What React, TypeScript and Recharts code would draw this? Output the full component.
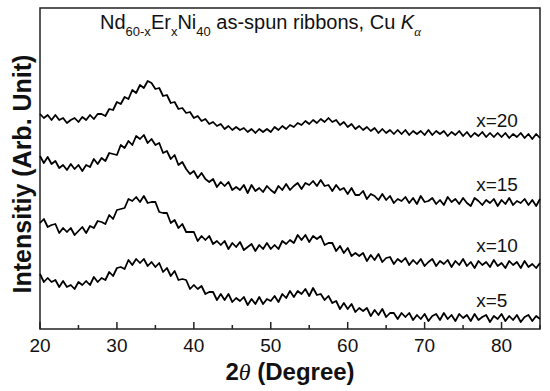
import { LineChart, Line, XAxis, YAxis, ReferenceArea, ReferenceDot } from "recharts"

// 2-theta scan grid (degrees)
const TWO_THETA = [
  20, 20.5, 21, 21.5, 22, 22.5, 23, 23.5, 24, 24.5, 25, 25.5, 26, 26.5, 27, 27.5, 28, 28.5, 29, 29.5,
  30, 30.5, 31, 31.5, 32, 32.5, 33, 33.5, 34, 34.5, 35, 35.5, 36, 36.5, 37, 37.5, 38, 38.5, 39, 39.5,
  40, 40.5, 41, 41.5, 42, 42.5, 43, 43.5, 44, 44.5, 45, 45.5, 46, 46.5, 47, 47.5, 48, 48.5, 49, 49.5,
  50, 50.5, 51, 51.5, 52, 52.5, 53, 53.5, 54, 54.5, 55, 55.5, 56, 56.5, 57, 57.5, 58, 58.5, 59, 59.5,
  60, 60.5, 61, 61.5, 62, 62.5, 63, 63.5, 64, 64.5, 65, 65.5, 66, 66.5, 67, 67.5, 68, 68.5, 69, 69.5,
  70, 70.5, 71, 71.5, 72, 72.5, 73, 73.5, 74, 74.5, 75, 75.5, 76, 76.5, 77, 77.5, 78, 78.5, 79, 79.5,
  80, 80.5, 81, 81.5, 82, 82.5, 83, 83.5, 84, 84.5, 85,
]

// intensities, stacked with offsets (arb. unit)
const X20 = [
  215, 211, 214, 209, 214, 209, 211, 206, 209, 211, 207, 212, 209, 214, 210, 215, 215, 213, 220, 219,
  227, 225, 232, 230, 239, 236, 244, 241, 248, 246, 240, 241, 233, 234, 226, 227, 220, 221, 216, 217,
  211, 213, 208, 210, 205, 207, 203, 205, 200, 203, 199, 202, 199, 201, 197, 200, 196, 200, 197, 200,
  197, 202, 199, 203, 200, 204, 202, 206, 204, 208, 205, 209, 206, 210, 207, 211, 207, 209, 204, 207,
  202, 205, 200, 203, 199, 202, 198, 201, 196, 200, 196, 199, 195, 199, 195, 199, 194, 198, 195, 198,
  194, 199, 194, 198, 195, 198, 193, 197, 194, 198, 193, 197, 192, 196, 193, 197, 192, 196, 192, 196,
  192, 196, 191, 195, 192, 196, 191, 195, 190, 195, 191,
]
const X15 = [
  173, 166, 172, 165, 168, 161, 164, 159, 165, 160, 164, 158, 164, 162, 170, 165, 171, 168, 176, 175,
  174, 184, 181, 188, 184, 193, 190, 194, 186, 190, 184, 186, 176, 178, 170, 174, 164, 167, 160, 155,
  158, 151, 156, 150, 147, 150, 142, 147, 143, 147, 139, 142, 139, 144, 136, 144, 138, 141, 137, 143,
  139, 136, 143, 139, 145, 139, 143, 146, 140, 146, 144, 148, 143, 149, 143, 144, 138, 144, 139, 141,
  135, 141, 134, 134, 138, 130, 135, 133, 129, 135, 129, 133, 126, 130, 128, 132, 126, 131, 125, 133,
  127, 128, 131, 125, 129, 124, 132, 127, 130, 125, 131, 126, 123, 131, 128, 124, 129, 126, 130, 123,
  129, 125, 131, 124, 128, 126, 130, 124, 129, 123, 130,
]
const X10 = [
  106, 110, 102, 104, 105, 96, 101, 97, 101, 94, 98, 102, 96, 103, 101, 108, 107, 105, 114, 110,
  119, 120, 121, 130, 128, 132, 127, 133, 126, 127, 127, 117, 116, 116, 106, 109, 101, 105, 97, 97,
  97, 88, 93, 89, 93, 85, 88, 84, 88, 80, 86, 82, 87, 79, 82, 85, 78, 84, 80, 86,
  80, 84, 80, 88, 85, 89, 86, 94, 89, 94, 87, 93, 90, 93, 84, 86, 86, 78, 83, 76,
  81, 73, 76, 73, 76, 68, 74, 69, 75, 67, 71, 72, 65, 70, 67, 71, 64, 69, 65, 70,
  63, 67, 70, 63, 68, 65, 69, 62, 68, 64, 70, 63, 67, 61, 68, 64, 67, 62, 69, 63,
  66, 61, 68, 64, 67, 61, 68, 62, 65, 61, 66,
]
const X5 = [
  55, 47, 51, 47, 49, 42, 48, 42, 44, 40, 47, 44, 48, 44, 52, 47, 51, 49, 57, 53,
  61, 62, 60, 69, 64, 70, 66, 70, 63, 67, 62, 66, 57, 61, 53, 58, 49, 50, 49, 40,
  44, 40, 43, 35, 37, 37, 29, 35, 29, 35, 27, 31, 28, 32, 24, 30, 25, 32, 25, 30,
  28, 33, 27, 35, 31, 38, 32, 38, 35, 40, 33, 41, 34, 35, 29, 33, 26, 28, 20, 26,
  20, 25, 17, 21, 18, 21, 13, 19, 14, 20, 12, 16, 16, 10, 16, 12, 16, 9, 14, 10,
  15, 8, 13, 15, 9, 16, 10, 14, 8, 15, 11, 14, 8, 15, 9, 12, 14, 7, 13, 10,
  15, 8, 13, 9, 14, 7, 12, 14, 8, 13, 10,
]

const SERIES_KEYS = ["x20", "x15", "x10", "x5"]
const SERIES_LABELS = ["x=20", "x=15", "x=10", "x=5"]
const LABEL_LEVELS = [202, 138, 77, 22]
const LABEL_ANGLE = 76.7
const X_TICKS = [20, 25, 30, 35, 40, 45, 50, 55, 60, 65, 70, 75, 80, 85]

const data = TWO_THETA.map((t, i) => ({ deg: t, x20: X20[i], x15: X15[i], x10: X10[i], x5: X5[i] }))

const SANS = "'Liberation Sans', Arial, Helvetica, sans-serif"
const INK = "#111"

const AngleTick = ({ x, y, payload }: any) => {
  const major = payload.value % 10 === 0
  return (
    <g>
      <line x1={x} x2={x} y1={y} y2={y - (major ? 7 : 4)} stroke="#222" strokeWidth={1.5} />
      {major && (
        <text x={x} y={y + 23} textAnchor="middle" fontSize={19} fontFamily={SANS} fill={INK}>
          {payload.value}
        </text>
      )}
    </g>
  )
}

const xTitle = ({ viewBox }: any) => (
  <text
    x={viewBox.x + viewBox.width / 2}
    y={viewBox.y + 51}
    textAnchor="middle"
    fontSize={24}
    fontWeight="bold"
    fontFamily={SANS}
    fill={INK}
  >
    2<tspan fontFamily="'Liberation Serif', serif" fontStyle="italic" fontWeight="normal">θ</tspan> (Degree)
  </text>
)

const yTitle = ({ viewBox }: any) => {
  const cx = viewBox.x + 31
  const cy = 174
  return (
    <text
      x={cx}
      y={cy}
      transform={`rotate(-90, ${cx}, ${cy})`}
      textAnchor="middle"
      fontSize={25}
      fontWeight="bold"
      fontFamily={SANS}
      fill={INK}
    >
      Intensitiy (Arb. Unit)
    </text>
  )
}

const chartTitle = ({ viewBox }: any) => (
  <text x={viewBox.x + 60} y={viewBox.y + 21} fontSize={20} fontFamily={SANS} fill={INK}>
    Nd
    <tspan fontSize={13} dy={7}>60-x</tspan>
    <tspan dy={-7}>Er</tspan>
    <tspan fontSize={13} dy={7}>x</tspan>
    <tspan dy={-7}>Ni</tspan>
    <tspan fontSize={13} dy={7}>40</tspan>
    <tspan dy={-7}> as-spun ribbons, Cu </tspan>
    <tspan fontStyle="italic">K</tspan>
    <tspan fontSize={13} dy={7} fontStyle="italic" fontFamily="'Liberation Serif', serif">α</tspan>
  </text>
)

const sampleLabel = (text: string) => ({ viewBox }: any) => (
  <text x={viewBox.x} y={viewBox.y} fontSize={19} fontFamily={SANS} fill={INK}>
    {text}
  </text>
)

export default function App() {
  return (
    <div style={{ position: "absolute", left: 0, top: 0, background: "#fff" }}>
      <LineChart width={550} height={391} data={data} margin={{ top: 8, right: 10, bottom: 0, left: 0 }}>
        <XAxis
          dataKey="deg"
          type="number"
          domain={[20, 85]}
          ticks={X_TICKS}
          interval={0}
          tick={AngleTick}
          tickLine={false}
          axisLine={false}
          tickSize={0}
          tickMargin={0}
          height={62}
          label={xTitle}
        />
        <YAxis
          type="number"
          domain={[0, 321]}
          width={40}
          tick={false}
          tickLine={false}
          axisLine={false}
          label={yTitle}
        />
        <ReferenceArea
          x1={20}
          x2={85}
          y1={0}
          y2={321}
          fill="none"
          stroke="#222"
          strokeWidth={1.5}
          fillOpacity={0}
          ifOverflow="visible"
          label={chartTitle}
        />
        {SERIES_KEYS.map((k) => (
          <Line
            key={k}
            dataKey={k}
            type="linear"
            stroke="#000"
            strokeWidth={1.8}
            strokeLinejoin="round"
            dot={false}
            isAnimationActive={false}
          />
        ))}
        {SERIES_LABELS.map((lbl, i) => (
          <ReferenceDot
            key={lbl}
            x={LABEL_ANGLE}
            y={LABEL_LEVELS[i]}
            r={0}
            fill="none"
            stroke="none"
            label={sampleLabel(lbl)}
          />
        ))}
      </LineChart>
    </div>
  )
}
